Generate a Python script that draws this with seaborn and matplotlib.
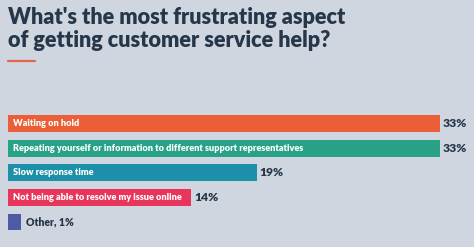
import matplotlib
matplotlib.use("Agg")
import matplotlib.pyplot as plt
import seaborn as sns
import pandas as pd
from matplotlib.lines import Line2D

categories = [
    "Waiting on hold",
    "Repeating yourself or information to different support representatives",
    "Slow response time",
    "Not being able to resolve my issue online",
    "Other",
]
values = [33, 33, 19, 14, 1]
colors = ["#ea5f38", "#27a287", "#1b90a8", "#e8355c", "#4f5aa6"]
title = "What's the most frustrating aspect\nof getting customer service help?"

sns.set_theme(style="white")
plt.rcParams['font.family'] = ['Lato', 'DejaVu Sans']

BG = "#cfd6e0"
DARK = "#26374a"

fig = plt.figure(figsize=(4.74, 2.47), dpi=100, facecolor=BG)
W, H = 474, 247

fig.text(8 / W, 1 - 7 / H, title, ha="left", va="top", fontsize=15.6,
         fontweight="heavy", color=DARK, linespacing=1.12)
fig.add_artist(Line2D([8 / W, 35 / W], [1 - 61.5 / H, 1 - 61.5 / H],
                      color="#e4654a", lw=1.6, transform=fig.transFigure))

x0, x1 = 8, 440
yc_top, yc_bot = 123.5, 222
step = (yc_bot - yc_top) / 4
top_px = yc_top - step / 2
bot_px = yc_bot + step / 2
ax = fig.add_axes([x0 / W, 1 - bot_px / H, (x1 - x0) / W, (bot_px - top_px) / H])
ax.set_facecolor(BG)

df = pd.DataFrame({"cat": categories, "val": values})
sns.barplot(data=df, x="val", y="cat", hue="cat", palette=colors, order=categories,
            hue_order=categories, legend=False, width=0.69, ax=ax, saturation=1,
            edgecolor="none")
ax.set_xlim(0, 33)
ax.set_ylim(4.5, -0.5)
ax.axis("off")

for i, (c, v) in enumerate(zip(categories, values)):
    if v >= 5:
        ax.text(0.4, i, c, ha="left", va="center", fontsize=6.6, fontweight="heavy",
                color="white")
        ax.text(v + 0.2, i, f"{v}%", ha="left", va="center", fontsize=8.7,
                fontweight="heavy", color=DARK, clip_on=False)
    else:
        ax.text(v + 0.35, i, f"{c}, {v}%", ha="left", va="center", fontsize=7.6,
                fontweight="heavy", color=DARK, clip_on=False)

fig.savefig("out.png", dpi=100, facecolor=BG)
